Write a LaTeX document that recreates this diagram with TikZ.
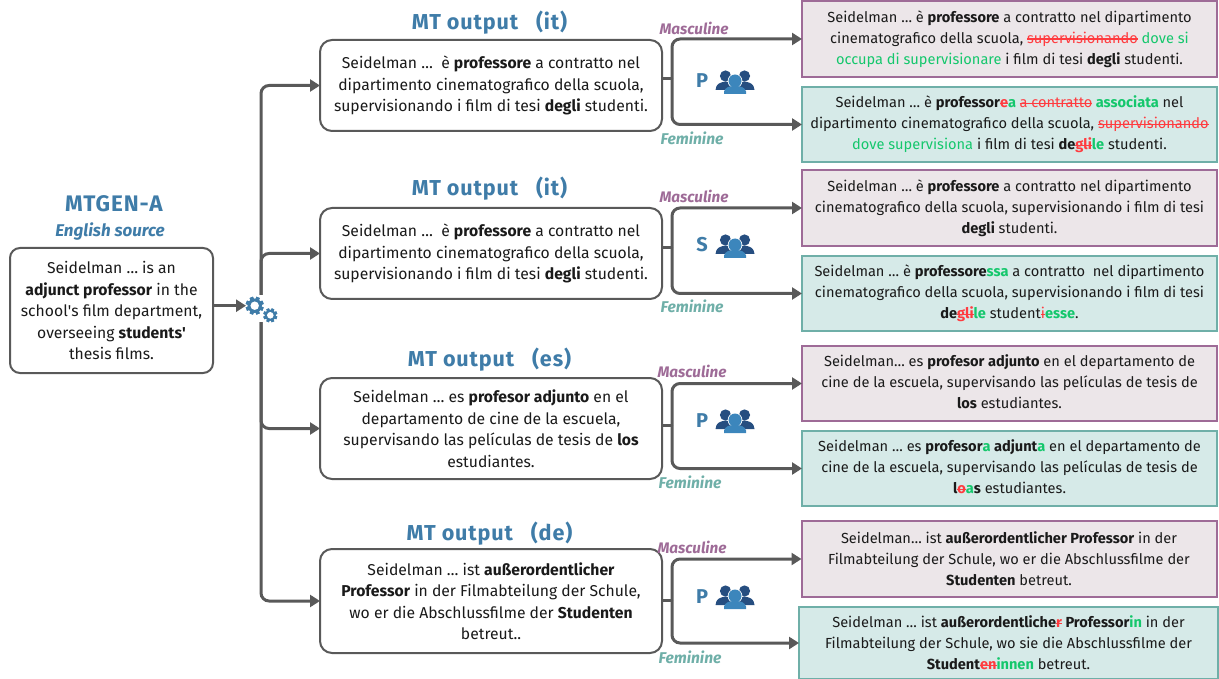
\documentclass[tikz,border=0pt]{standalone}
\usepackage{fontspec}
\setmainfont{Fira Sans}
\newfontfamily\headfont[LetterSpace=4]{Fira Sans}
\newfontfamily\rawfont{Fira Sans}
\usetikzlibrary{arrows.meta}
\definecolor{ink}{HTML}{1A1A1A}
\definecolor{conn}{HTML}{595959}
\definecolor{headblue}{HTML}{3F7CA8}
\definecolor{purp}{HTML}{9E6B97}
\definecolor{purpfill}{HTML}{ECE6E9}
\definecolor{tealb}{HTML}{6FAFA8}
\definecolor{tealfill}{HTML}{D6EAE8}
\definecolor{addg}{HTML}{14C76C}
\definecolor{delr}{HTML}{FF3B3F}
\definecolor{pdark}{HTML}{264E80}
\definecolor{plight}{HTML}{3C86BC}
\newcommand{\del}[1]{\leavevmode{\color{delr}\sbox0{#1}\rlap{\rule[0.24em]{\wd0}{1.3pt}}#1}}
\newcommand{\add}[1]{\textcolor{addg}{#1}}
\newcommand{\bb}[1]{\textbf{#1}}
\newcommand{\apos}{{\rawfont'}}
\newcommand{\lowpad}[1]{\rule[-#1]{0pt}{#1}}
\tikzset{
  x=1pt,y=-1pt,
  txt/.style={font=\fontsize{14.6}{21}\selectfont,text=ink,align=center,inner sep=0pt,outer sep=0pt},
  bigtxt/.style={font=\fontsize{15.7}{21.5}\selectfont,text=ink,align=center,inner sep=0pt,outer sep=0pt},
  srcbox/.style={bigtxt,draw=conn,line width=2pt,rounded corners=10pt,fill=white},
  mtbox/.style={bigtxt,draw=conn,line width=2pt,rounded corners=12pt,fill=white,minimum width=342pt},
  mascbox/.style={txt,draw=purp,fill=purpfill,line width=2pt,minimum width=415pt},
  fembox/.style={txt,draw=tealb,fill=tealfill,line width=2pt,minimum width=415pt},
  heading/.style={font=\headfont\fontsize{21.6}{24}\selectfont\bfseries,text=headblue,inner sep=0pt},
  mlabel/.style={font=\fontsize{15.3}{16}\selectfont\bfseries\itshape,text=purp,inner sep=0pt},
  flabel/.style={font=\fontsize{15.6}{16}\selectfont\bfseries\itshape,text=tealb,inner sep=0pt},
  letter/.style={font=\fontsize{20}{24}\selectfont\bfseries,text=headblue,inner sep=0pt},
  link/.style={draw=conn,line width=3pt,rounded corners=8pt},
  arrowlink/.style={link,-{Triangle[length=10pt,width=12pt]}},
  pics/gear/.style={code={
    \foreach \a in {0,45,...,315}{
      \fill[headblue,rotate=\a+22.5] (-#1*0.2,-#1) rectangle (#1*0.2,#1);}
    \fill[headblue] (0,0) circle (#1*0.8);
    \fill[white] (0,0) circle (#1*0.47);
  }},
  pics/people/.style={code={
    \foreach \s in {-1,1}{
      \fill[pdark] (\s*9.5,-6.5) circle (5.6);
      \fill[pdark] (\s*19.5,7.5) .. controls (\s*19,1) and (\s*15,0) .. (\s*9.5,-1) .. controls (\s*4,0) and (\s*1,1) .. (0,7.5) -- cycle;
    }
    \fill[white] (0,-1.5) circle (7.3);
    \fill[plight] (0,-1.5) circle (6.5);
    \fill[plight] (-11,11.5) -- (-11,9) .. controls (-10,5) and (-6,3.5) .. (0,3.5) .. controls (6,3.5) and (10,5) .. (11,9) -- (11,11.5) -- cycle;
  }},
}
\begin{document}
\begin{tikzpicture}
\useasboundingbox (0,0) rectangle (1219,679);
% source
\node[font=\headfont\fontsize{22.5}{24}\selectfont\bfseries,text=headblue,inner sep=0pt] (title) at (114,204) {MTGEN-A};
\node[font=\fontsize{17}{18}\selectfont\bfseries\itshape,text=headblue,inner sep=0pt] (sub) at (110,232) {English source};
\node[srcbox,minimum width=203pt,minimum height=125pt] (src) at (111.5,310.5) {Seidelman … is an\\\bb{adjunct professor} in the\\school\apos s film department,\\overseeing \bb{students\apos}\\thesis films.};
\coordinate (g1) at (254.7,305.7);
\coordinate (g2) at (270.3,315.3);
\coordinate (tt) at (261,295);
\coordinate (tb) at (261,322);
% MT boxes
\node[heading] (h1) at (489.5,23) {MT output\hspace{0.55em} (it)};
\node[heading] (h2) at (489.5,189) {MT output\hspace{0.55em} (it)};
\node[heading] (h3) at (489.5,360) {MT output\hspace{0.55em} (es)};
\node[heading] (h4) at (489.5,534) {MT output\hspace{0.55em} (de)};
\node[mtbox,minimum height=91pt] (mt1) at (491,85.5) {Seidelman …\ \ è \bb{professore} a contratto nel\\dipartimento cinematografico della scuola,\\supervisionando i film di tesi \bb{degli} studenti.};
\node[mtbox,minimum height=91pt] (mt2) at (491,253.5) {Seidelman …\ \ è \bb{professore} a contratto nel\\dipartimento cinematografico della scuola,\\supervisionando i film di tesi \bb{degli} studenti.};
\node[mtbox,minimum height=101pt] (mt3) at (491,428.5) {Seidelman … es \bb{profesor adjunto} en el\\departamento de cine de la escuela,\\supervisando las películas de tesis de \bb{los}\\estudiantes.};
\node[mtbox,minimum height=104pt] (mt4) at (491,601) {Seidelman … ist \bb{außerordentlicher}\\\bb{Professor} in der Filmabteilung der Schule,\\wo er die Abschlussfilme der \bb{Studenten}\\betreut..};
% output boxes
\node[mascbox,minimum height=76pt] (a1) at (1009.5,39) {Seidelman … è \bb{professore} a contratto nel dipartimento\\cinematografico della scuola, \del{supervisionando} \add{dove si}\\\add{occupa di supervisionare} i film di tesi \bb{degli} studenti.};
\node[fembox,minimum height=75pt] (b1) at (1009.5,124.5) {Seidelman … è \bb{professor\del{e}\add{a} \del{\mdseries a contratto} \add{associata}} nel\\dipartimento cinematografico della scuola, \del{supervisionando}\\\add{dove supervisiona} i film di tesi \bb{de\del{gli}\add{le}} studenti.};
\node[mascbox,minimum height=76pt] (a2) at (1009.5,208) {Seidelman … è \bb{professore} a contratto nel dipartimento\\cinematografico della scuola, supervisionando i film di tesi\\\bb{degli} studenti.};
\node[fembox,minimum height=75pt] (b2) at (1009.5,293.5) {Seidelman … è \bb{professore\add{ssa}} a contratto\ \ nel dipartimento\\cinematografico della scuola, supervisionando i film di tesi\\\bb{de\del{gli}\add{le}} student\del{i}\add{\bb{esse}}.};
\node[mascbox,minimum height=75pt] (a3) at (1009.5,383.5) {Seidelman… es \bb{profesor adjunto} en el departamento de\\cine de la escuela, supervisando las películas de tesis de\\\bb{los} estudiantes.\lowpad{3pt}};
\node[fembox,minimum height=75pt] (b3) at (1009.5,468.5) {Seidelman … es \bb{profesor\add{a} adjunt\add{a}} en el departamento de\\cine de la escuela, supervisando las películas de tesis de\\\bb{l\del{o}\add{a}s} estudiantes.\lowpad{4pt}};
\node[mascbox,minimum height=76pt] (a4) at (1009,559) {Seidelman… ist \bb{außerordentlicher Professor} in der\\Filmabteilung der Schule, wo er die Abschlussfilme der\\\bb{Studenten} betreut.};
\node[fembox,minimum height=72pt,minimum width=419pt] (b4) at (1008.5,643) {Seidelman … ist \bb{außerordentliche\del{r} Professor\add{in}} in der\\Filmabteilung der Schule, wo sie die Abschlussfilme der\\\bb{Student\del{en}\add{innen}} betreut.};
% trunk
\draw[arrowlink] (src.east |- g1) -- (246,305.7);
\draw[arrowlink] (tt) |- (mt1.west);
\draw[arrowlink] (tt) |- (mt2.west);
\draw[arrowlink] (tb) |- (mt3.west);
\draw[arrowlink] (tb) |- (mt4.west);
\pic at (g1) {gear=9};
\pic at (g2) {gear=7};
% splits
\coordinate (s1) at (672,79);
\coordinate (s2) at (672,248);
\coordinate (s3) at (672,425);
\coordinate (s4) at (672,600);
\foreach \i in {1,2,3,4}{
  \draw[link] (mt\i.east |- s\i) -- (s\i);
  \draw[arrowlink] (s\i) |- (a\i.west);
  \draw[arrowlink] (s\i) |- (b\i.west);
}
% labels
\node[mlabel] (m1) at (694,28) {Masculine};
\node[flabel] (f1) at (692,138) {Feminine};
\node[mlabel] (m2) at (694,196) {Masculine};
\node[flabel] (f2) at (692,306) {Feminine};
\node[mlabel] (m3) at (692,371) {Masculine};
\node[flabel] (f3) at (690,482) {Feminine};
\node[mlabel] (m4) at (692,547) {Masculine};
\node[flabel] (f4) at (690,657) {Feminine};
\node[letter] (l1) at (702,81) {P};
\node[letter] (l2) at (702,245) {S};
\node[letter] (l3) at (702,421) {P};
\node[letter] (l4) at (702,597) {P};
\pic at (735,82.5) {people};
\pic at (735,246.5) {people};
\pic at (735,421.5) {people};
\pic at (735,597.5) {people};
\end{tikzpicture}
\end{document}
